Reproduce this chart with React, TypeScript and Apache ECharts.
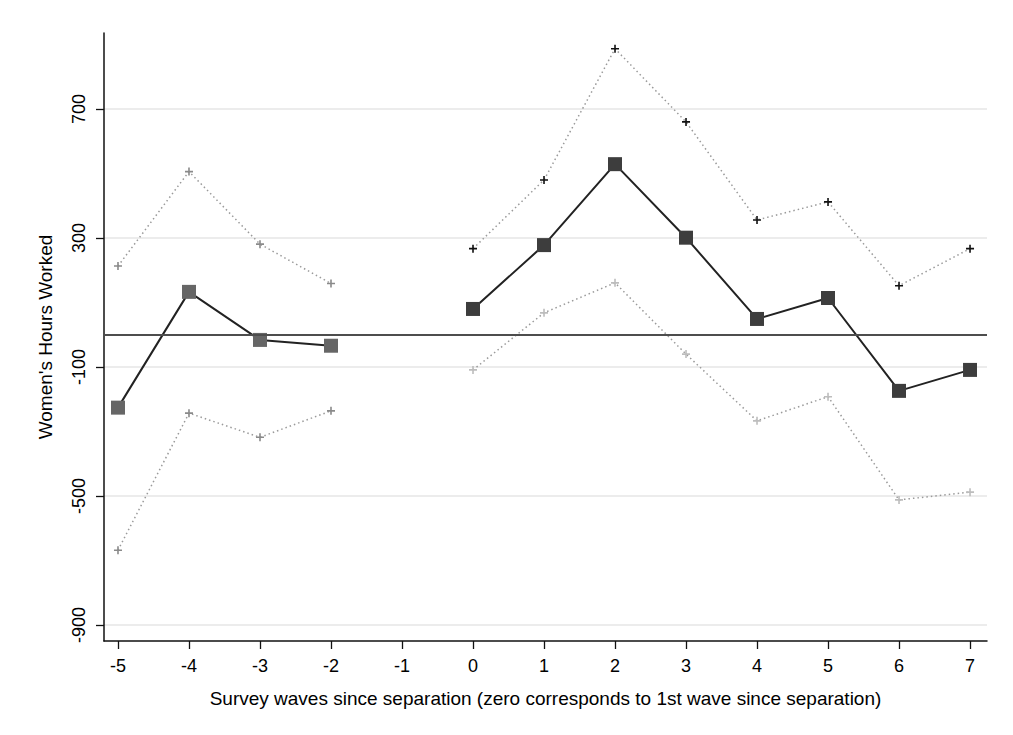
import React, { useEffect, useRef } from "react";
import * as echarts from "echarts";

const waveTicks = [-5, -4, -3, -2, -1, 0, 1, 2, 3, 4, 5, 6, 7];
const yTicks = [-900, -500, -100, 300, 700];

const preWaves = [-5, -4, -3, -2];
const preEstimate = [-226, 133, -16, -34];
const preUpper = [213, 506, 281, 159];
const preLower = [-668, -243, -318, -236];

const postWaves = [0, 1, 2, 3, 4, 5, 6, 7];
const postEstimate = [80, 278, 529, 301, 49, 114, -174, -109];
const postUpper = [267, 480, 887, 660, 356, 412, 152, 267];
const postLower = [-109, 68, 161, -60, -267, -192, -512, -488];

const PLUS = "path://M4,0h2v4h4v2h-4v4h-2v-4h-4v-2h4z";
const FONT = "Liberation Sans, Arial, Helvetica, sans-serif";

const pairs = (xs: number[], ys: number[]) => xs.map((x, i) => [x, ys[i]]);

export default function App() {
  const ref = useRef<HTMLDivElement>(null);
  useEffect(() => {
    if (!ref.current) return;
    const chart = echarts.init(ref.current, undefined, { renderer: "svg" });
    const ciSeries = (name: string, xs: number[], ys: number[], markerColor: string) => ({
      name,
      type: "line",
      data: pairs(xs, ys),
      symbol: PLUS,
      symbolSize: 8,
      showSymbol: true,
      itemStyle: { color: markerColor },
      lineStyle: { color: "#9a9a9a", width: 1.5, type: [1.5, 3] },
      silent: true,
      z: 3,
    });
    const estSeries = (name: string, xs: number[], ys: number[], markerColor: string) => ({
      name,
      type: "line",
      data: pairs(xs, ys),
      symbol: "rect",
      symbolSize: 14,
      itemStyle: { color: markerColor },
      lineStyle: { color: "#222", width: 2 },
      silent: true,
      z: 4,
    });
    chart.setOption({
      animation: false,
      backgroundColor: "#fff",
      grid: { left: 104, right: 26, top: 33, bottom: 94 },
      xAxis: {
        type: "value",
        min: -5.197,
        max: 7.239,
        name: "Survey waves since separation (zero corresponds to 1st wave since separation)",
        nameLocation: "middle",
        nameGap: 48,
        nameTextStyle: { fontFamily: FONT, fontSize: 19, color: "#000" },
        axisLine: { show: true, onZero: false, lineStyle: { color: "#111", width: 1.5 } },
        axisTick: { show: true, length: 8, customValues: waveTicks, lineStyle: { color: "#111", width: 1.3 } },
        axisLabel: { customValues: waveTicks, fontFamily: FONT, fontSize: 18, color: "#000", margin: 16 },
        splitLine: { show: false },
      },
      yAxis: {
        type: "value",
        min: -949.6,
        max: 935.7,
        name: "Women's Hours Worked",
        nameLocation: "middle",
        nameGap: 49,
        nameTextStyle: { fontFamily: FONT, fontSize: 19, color: "#000" },
        axisLine: { show: true, onZero: false, lineStyle: { color: "#111", width: 1.5 } },
        axisTick: { show: true, length: 8, customValues: yTicks, lineStyle: { color: "#111", width: 1.3 } },
        axisLabel: { customValues: yTicks, rotate: 90, fontFamily: FONT, fontSize: 18, color: "#000", margin: 16 },
        splitLine: { show: true, lineStyle: { color: "#e6e6e6", width: 1.5 } },
      },
      series: [
        {
          name: "zero",
          type: "line",
          data: [],
          silent: true,
          markLine: {
            silent: true,
            symbol: "none",
            label: { show: false },
            lineStyle: { color: "#4d4d4d", width: 2.2, type: "solid" },
            data: [{ yAxis: 0 }],
          },
          z: 2,
        },
        ciSeries("preUpper", preWaves, preUpper, "#8a8a8a"),
        ciSeries("preLower", preWaves, preLower, "#8a8a8a"),
        ciSeries("postUpper", postWaves, postUpper, "#111"),
        ciSeries("postLower", postWaves, postLower, "#bdbdbd"),
        estSeries("preEstimate", preWaves, preEstimate, "#666"),
        estSeries("postEstimate", postWaves, postEstimate, "#3d3d3d"),
      ],
    });
    return () => chart.dispose();
  }, []);
  return (
    <div
      ref={ref}
      style={{ position: "fixed", left: 0, top: 0, width: 1013, height: 735, background: "#fff" }}
    />
  );
}
